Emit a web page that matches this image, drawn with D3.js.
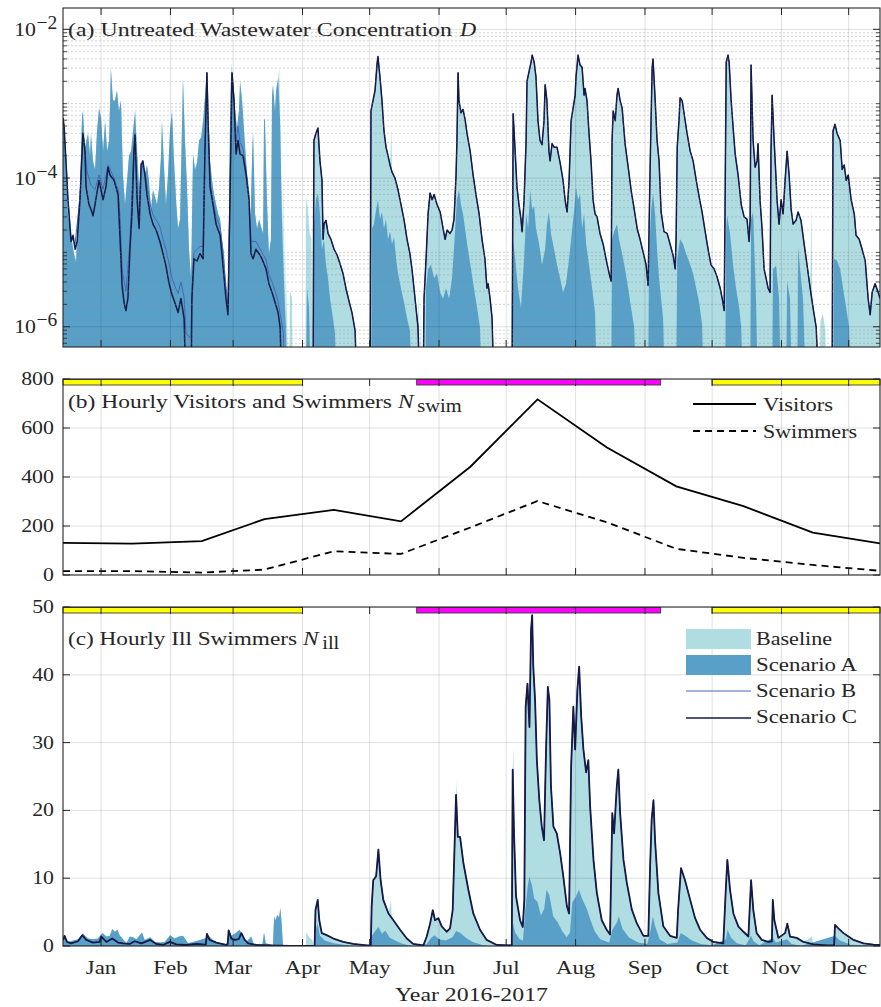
<!DOCTYPE html>
<html>
<head>
<meta charset="utf-8">
<script src="https://cdn.jsdelivr.net/npm/d3@7"></script>
<style>
html,body{margin:0;padding:0;background:#fff;}
svg{display:block;}
text{font-family:"Liberation Serif","Times New Roman",serif;fill:#262626;font-size:19.5px;}
</style>
</head>
<body>
<svg id="chart" width="881" height="1007"></svg>
<script>
// ================= DATA =================
// time axis: day offsets from 2016-12-15
const monthLabels = ["Jan","Feb","Mar","Apr","May","Jun","Jul","Aug","Sep","Oct","Nov","Dec"];

// (b) hourly visitors / swimmers (mid-month values)
const visitDates = ["2016-12-15","2017-01-15","2017-02-15","2017-03-15","2017-04-15","2017-05-15","2017-06-15","2017-07-15","2017-08-15","2017-09-15","2017-10-15","2017-11-15","2017-12-15"];
const visitors = [131,128,138,228,266,219,442,717,520,362,281,173,129];
const swimmers = [16,16,10,22,97,86,194,302,215,107,70,41,17];

// season bars
const seasonStart = ["2016-12-15","2017-05-22","2017-10-01"];
const seasonEnd   = ["2017-04-01","2017-09-08","2017-12-15"];
const seasonKind  = ["winter","summer","winter"];

// tick values
const concMajorTicks = [1e-6,1e-4,1e-2];
const concTickExp = ["−6","−4","−2"];
const visitTicks = [0,200,400,600,800];
const illTicks = [0,10,20,30,40,50];

// (a) Scenario C concentration [day, D]
const concC = [
[0,6.4e-4],[0.5,5e-4],[1.3,1.7e-4],[2.2,5.1e-5],[3.6,1.4e-5],[4.5,1.7e-5],[5.4,1.1e-5],[6.3,1.4e-5],[7.6,5.1e-5],[8.9,4e-4],[9.8,2.3e-4],[10.3,7.6e-5],[11.6,4.4e-5],[12.5,3.8e-5],[13.4,3.1e-5],[14.3,4.4e-5],[16.1,9.3e-5],[17,6.9e-5],[17.9,5.1e-5],[19.2,7.6e-5],[20.1,1.4e-4],[21,1.1e-4],[22.8,9.3e-5],[24.6,6e-5],[25.5,1.5e-5],[26.4,3.6e-6],[27.3,2.1e-6],[28.1,1.65e-6],[29,2.4e-6],[29.9,1.1e-5],[30.8,3.3e-5],[31.7,2.3e-4],[32.2,3.8e-4],[33.1,5.1e-5],[34,2.1e-5],[34.9,1.5e-4],[35.7,1.7e-4],[36.6,1.1e-4],[37.5,6e-5],[38.9,3.3e-5],[40.2,2.4e-5],[41.6,2e-5],[42.4,1.7e-5],[43.3,1.4e-5],[44.7,9.6e-6],[46,6.6e-6],[47.4,3.8e-6],[48.7,2.7e-6],[50,2.1e-6],[51.4,1.55e-6],[52.7,2.4e-6],[54.1,1.3e-6],[55,1e-7],[57.2,1e-7],[57.6,2.4e-6],[58.5,8.2e-6],[59.9,7.7e-6],[61.2,9.6e-6],[62.6,8.2e-6],[63.4,2.3e-4],[64.3,2.6e-3],[64.8,5.9e-4],[65.7,7.6e-5],[67,4.4e-5],[68.4,2.4e-5],[70.2,1.7e-5],[71.5,6.6e-6],[72.8,2.4e-6],[73.7,1.45e-6],[74.6,5.1e-5],[75.5,2.6e-3],[76.4,1.1e-3],[77.3,2.1e-4],[78.2,3.2e-4],[79.1,2.1e-4],[80.4,2e-4],[81.8,1.1e-4],[83.1,5.1e-5],[84,9.6e-6],[84.9,8.2e-6],[86.2,1.1e-5],[87.6,9.6e-6],[88.9,8.2e-6],[90.7,6e-6],[92,3.8e-6],[93.4,2.9e-6],[94.8,2.1e-6],[96.1,1.55e-6],[97,9.8e-7],[97.9,1e-7],
[106.8,1e-7],[111.7,1e-7],[112.1,3.2e-4],[113,4e-4],[113.9,4.7e-4],[114.8,1.7e-4],[115.7,9.3e-5],[116.2,1.5e-5],[116.6,2.4e-5],[117.5,2.7e-5],[118.4,1.8e-5],[119.7,1.5e-5],[121.1,1.1e-5],[122.4,9.3e-6],[123.8,7e-6],[125.1,5.2e-6],[126.4,3.3e-6],[127.8,2.2e-6],[129.1,1.55e-6],[130.5,8.9e-7],[131.4,1e-7],
[137.2,1e-7],[137.6,8e-4],[138.5,1.1e-3],[139.4,1.5e-3],[140.3,3.4e-3],[140.7,4.3e-3],[141.6,2.3e-3],[142.5,1.1e-3],[143.4,4.3e-4],[144.3,2.6e-4],[145.2,2e-4],[146.1,1.5e-4],[147,1.2e-4],[148.3,1e-4],[149.7,6.9e-5],[151,4.4e-5],[152.4,2.7e-5],[153.7,1.5e-5],[155,9.6e-6],[155.9,6e-6],[156.8,3.3e-6],[157.7,1.8e-6],[158.6,9.8e-7],[159.5,1e-7],
[160.9,1e-7],[161.3,2.4e-6],[162.2,8.2e-6],[163.1,3.3e-5],[164,6.3e-5],[164.9,5.1e-5],[165.8,6e-5],[167.1,4.4e-5],[168.5,3.5e-5],[169.8,2.1e-5],[170.7,1.5e-5],[171.6,2e-5],[172.9,1.8e-5],[173.8,2e-5],[174.7,2.8e-5],[175.6,1.1e-4],[176,3.2e-4],[176.5,2.6e-3],[176.9,1.1e-3],[177.8,7.5e-4],[178.7,8.4e-4],[179.6,6.2e-4],[180.5,4e-4],[181.9,2.3e-4],[183.2,1.1e-4],[184.5,6e-5],[185.9,3.3e-5],[187.2,1.5e-5],[188.5,8.2e-6],[189.4,3.3e-6],[189.9,3.8e-6],[190.8,2.4e-6],[191.7,1.3e-6],[192.6,1e-7],
[200.6,1e-7],[201.1,7.3e-4],[202,2.3e-4],[202.8,7.6e-5],[203.7,4.4e-5],[204.6,2.8e-5],[205.1,1.9e-5],[206,5.1e-5],[206.9,3.2e-4],[207.3,2e-3],[208.2,2.7e-3],[209.1,3.6e-3],[209.6,4.5e-3],[210.5,3.6e-3],[211.3,2.3e-3],[212.2,5.9e-4],[213.1,3.2e-4],[214,2.8e-4],[214.9,5.9e-4],[215.4,1.8e-3],[216.2,1.1e-3],[217.1,2.3e-4],[217.6,1.7e-4],[218.5,2.9e-4],[219.4,2.6e-4],[220.7,2.6e-4],[222.1,1.6e-4],[223.4,9.3e-5],[224.3,5.1e-5],[225.2,3.5e-5],[226.1,9.3e-5],[227,5.9e-4],[227.9,8.7e-4],[228.8,1.3e-3],[229.2,2.3e-3],[230.1,4.5e-3],[231,3.3e-3],[231.9,3.1e-3],[232.8,1.3e-3],[233.2,1.6e-3],[234.1,1.1e-3],[235,4e-4],[235.9,1.7e-4],[236.8,5.1e-5],[237.7,3.3e-5],[238.6,3e-5],[239.9,1.8e-5],[241.3,1.3e-5],[242.6,8.2e-6],[244,5.2e-6],[244.9,4.1e-6],
[245.3,3.2e-4],[245.8,8e-4],[246.7,5.9e-4],[247.5,1.3e-3],[248,1.6e-3],[248.9,1.1e-3],[249.8,8.7e-4],[251.1,2.9e-4],[252.5,1.4e-4],[253.8,6.9e-5],[255.2,3.8e-5],[256.5,2.1e-5],[257.8,1.5e-5],[259.2,1e-5],[260.5,6.8e-6],[261.4,3.6e-6],
[262.3,1.4e-4],[263.2,3e-3],[263.6,4e-3],[264.5,1.2e-3],[265.4,3.2e-4],[266.3,1.7e-4],[267.2,3.5e-5],[268.5,1.9e-5],[269.9,1.8e-5],[271.2,1.3e-5],[272.6,9e-6],[273.5,6e-6],
[273.9,1.5e-5],[274.4,2.6e-4],[275.2,5.9e-4],[275.7,1.2e-3],[276.6,1.1e-3],[277.5,7.3e-4],[278.8,4e-4],[280.2,2.3e-4],[281.5,1.7e-4],[282.9,9.3e-5],[284.2,5.6e-5],[285.5,3.5e-5],[286.9,1.9e-5],[288.2,1.1e-5],[289.5,6.8e-6],[290.9,6e-6],[292.2,4.7e-6],[293.6,3.3e-6],[294.5,2.4e-6],[295.4,1.65e-6],
[296.3,3.6e-3],[297.1,4.5e-3],[297.6,3.6e-3],[298.5,1.1e-3],[299.4,4.7e-4],[300.3,2.1e-4],[301.6,1.1e-4],[303,4.4e-5],[304.3,3e-5],[305.6,2.8e-5],[306.5,1.4e-5],[307,2.8e-5],
[307.4,3.3e-3],[308.3,3.2e-4],[309.2,1.4e-4],[310.1,1.7e-4],[310.5,2.9e-4],[311.4,5.1e-5],[312.3,2.1e-5],[313.2,6e-6],[314.1,4.5e-6],[315,3.3e-6],[315.9,2.9e-6],
[316.3,2.3e-4],[316.8,1.3e-3],[317.7,3.2e-4],[318.6,9.3e-5],[319,5.1e-5],[319.9,2.4e-5],[320.8,5.1e-5],[321.7,3.3e-5],[322.6,9.3e-5],[323.5,2.3e-4],[324.4,1.1e-4],[325.3,3.8e-5],[326.2,2.4e-5],[327.5,2.7e-5],[328.4,3.5e-5],[329.7,2.7e-5],[331.1,1.3e-5],[332.4,6.8e-6],[333.8,3.3e-6],[335.1,1.8e-6],[336.5,9.8e-7],[337.8,1e-7],
[343.6,1e-7],[344,4.3e-4],[344.9,5.3e-4],[345.8,4e-4],[347.2,3.2e-4],[348.1,1.3e-4],[349,1.5e-4],[349.9,9.3e-5],[350.8,1.1e-4],[352.1,5.1e-5],[353.5,3.3e-5],[354.3,1.7e-5],[355.7,1.5e-5],[357,1.1e-5],[358.4,7.7e-6],[359.7,2.4e-6],[360.6,1.45e-6],[361.5,2.9e-6],[362.8,3.8e-6],[364.2,2.9e-6],[365,2.4e-6]
];

// (a) Scenario B in winter (coincides with C afterwards)
const concBWinter = [
[0,6.4e-4],[1.3,1.9e-4],[2.2,5.5e-5],[3.6,1.6e-5],[5.4,1.3e-5],[7.6,5.5e-5],[8.9,4e-4],[9.8,2.4e-4],[10.8,1.2e-4],[12.5,8e-5],[14.3,7e-5],[16.1,1.1e-4],[17.9,7e-5],[20.1,1.5e-4],[22.8,1e-4],[24.6,7e-5],[25.5,3e-5],[26.4,6e-6],[28.1,3e-6],[29.9,1.4e-5],[31.7,2.5e-4],[32.2,4e-4],[33.1,6e-5],[34,2.8e-5],[34.9,1.6e-4],[36.6,1.2e-4],[38.9,4.5e-5],[40.2,3.2e-5],[42.4,2.5e-5],[43.3,2.2e-5],[44.7,1.5e-5],[46,1.1e-5],[47.4,7e-6],[48.7,4.5e-6],[50,3.5e-6],[51.4,2.8e-6],[52.7,4e-6],[54.1,2.5e-6],[55,8e-7],[57.2,7e-7],[57.6,3e-6],[58.5,1e-5],[61.2,1.2e-5],[62.6,1.2e-5],[63.4,2.5e-4],[64.3,2.6e-3],[65.7,9e-5],[67,5e-5],[68.4,3e-5],[70.2,2.2e-5],[71.5,1e-5],[72.8,3.5e-6],[73.7,2e-6],[74.6,6e-5],[75.5,2.6e-3],[76.4,1.2e-3],[77.3,3e-4],[78.2,5e-4],[79.1,3e-4],[80.4,2.5e-4],[81.8,1.3e-4],[83.1,6e-5],[84,1.4e-5],[86.2,1.4e-5],[88.9,1e-5],[90.7,8e-6],[92,5e-6],[93.4,4e-6],[94.8,3e-6],[96.1,2.2e-6],[97,1.5e-6],[98.5,8e-7],[99,1e-7]
];

// (a) Scenario A concentration
const concA = [
[0,5.9e-4],[0.4,6.2e-4],[1.3,1.05e-4],[2.2,3.3e-5],[3.6,1.7e-5],[4.9,9.6e-6],[5.8,7.5e-6],[6.7,3.3e-5],[7.6,7.6e-5],[8.5,6.8e-4],[8.9,8e-4],[9.8,2.6e-4],[11.2,4e-4],[12.1,2e-4],[12.5,4e-4],[13.4,1.7e-4],[14.3,1.3e-4],[15.2,4.3e-4],[16.1,8.7e-4],[17,6.4e-4],[17.9,2.3e-4],[18.8,5.9e-4],[19.7,2.3e-4],[20.6,3.2e-4],[21.4,3e-3],[22.3,1.1e-3],[23.2,1.1e-3],[24.1,1.5e-3],[25,8e-4],[25.9,1.1e-3],[26.8,1.1e-4],[27.7,4.4e-5],[28.6,9.3e-5],[29.5,2e-4],[30.4,2.3e-4],[31.3,4.3e-4],[32.2,8e-4],[33.1,2.3e-4],[34,7.6e-5],[34.9,1.5e-4],[35.7,1.7e-4],[36.6,1.1e-4],[37.5,1.5e-4],[38.4,9.3e-5],[39.3,3.8e-5],[40.2,6.9e-5],[41.1,5.6e-5],[42,4.4e-5],[42.9,7.4e-5],[43.8,2e-4],[44.2,5.9e-4],[45.1,1.5e-4],[46,4.4e-5],[46.9,1.1e-4],[47.8,4.3e-4],[48.7,8e-4],[49.6,1.7e-4],[50.5,5.1e-5],[51.4,2.1e-5],[52.3,2.8e-5],[53.2,5.9e-4],[53.6,2.2e-3],[54.5,3.2e-4],[55.4,7.6e-5],[56.3,1.1e-5],[57.2,4.5e-6],[58.1,2.1e-4],[59,1.3e-4],[59.9,1.6e-4],[60.8,3.2e-4],[61.7,3.5e-4],[62.6,5.9e-4],[63.4,1.2e-3],[64.2,2.7e-3],[64.8,4.3e-4],[65.7,1.7e-4],[66.6,9.3e-5],[67.5,6e-5],[68.4,4.4e-5],[69.3,3.3e-5],[70.2,2.8e-5],[71,1.5e-5],[71.9,9.6e-6],[72.8,3.3e-6],[73.7,1.65e-6],[74.6,5.9e-4],[75.1,2.7e-3],[76,1.6e-3],[76.9,8e-4],[77.7,4.7e-4],[78.6,8e-4],[79.1,2e-3],[80,1.1e-3],[80.9,4.3e-4],[81.8,1.7e-4],[82.7,6.9e-5],[83.6,1.7e-5],[84.5,2e-4],[84.9,4.3e-4],[85.8,3.3e-5],[86.7,2.1e-5],[87.6,2.8e-5],[88.5,2.2e-5],[89.4,1.8e-5],[89.8,5.9e-4],[90.2,6.4e-4],[91.1,5.1e-5],[92,9.6e-6],[92.9,1.5e-5],[93.4,1.3e-3],[93.8,1.8e-3],[94.7,8e-4],[95.2,1.5e-3],[96.1,2.2e-3],[97,5.9e-4],[97.9,2.1e-5],[98.8,3.3e-6],[99.6,9.8e-7],[100.5,1e-7],
[105.9,1e-7],[108.5,1e-7],[109,3.3e-6],[109.9,1.8e-6],[110.8,1e-7],[111.7,1e-7],[112.1,2.1e-5],[113,5.1e-5],[113.9,6.3e-5],[114.8,3.3e-5],[115.7,1.1e-5],[116.6,1.5e-5],[117.5,6.8e-6],[118.4,4.5e-6],[119.3,2.4e-6],[120.6,1.3e-6],[121.5,8.4e-7],[122.4,1e-7],
[137.6,1e-7],[138.1,2.1e-5],[138.9,2.4e-5],[139.8,3.6e-5],[140.7,5.1e-5],[141.6,2.8e-5],[142.5,3.5e-5],[143.4,2.1e-5],[144.3,2.8e-5],[145.2,1.5e-5],[146.1,1.9e-5],[147,1.3e-5],[147.9,1.6e-5],[148.8,8.2e-6],[149.7,5.2e-6],[151,3.3e-6],[152.4,2.1e-6],[153.7,1.3e-6],[155,8.9e-7],[155.9,1e-7],
[161.8,1e-7],[162.2,3.3e-6],[163.1,6e-6],[164.4,6.8e-6],[165.8,4.5e-6],[167.1,5.2e-6],[168.5,2.9e-6],[169.8,2.4e-6],[171.1,3.3e-6],[172.5,2.4e-6],[173.8,4.5e-6],[175.1,1.8e-5],[176,5.1e-5],[176.9,6.9e-5],[177.8,4.4e-5],[178.7,3.3e-5],[179.6,2.1e-5],[180.9,1.1e-5],[182.3,6e-6],[183.6,3.3e-6],[185,1.8e-6],[186.3,9.8e-7],[187.2,1e-7],
[200.6,1e-7],[201.1,1.5e-5],[202,8.2e-6],[203.3,3.3e-6],[204.6,1.8e-6],[206,8.2e-6],[206.9,3.3e-5],[207.8,2.1e-5],[208.7,6.9e-5],[209.6,3.8e-5],[210.5,4.2e-5],[211.3,2.1e-5],[212.7,1.3e-5],[214,6.8e-6],[215.4,1.1e-5],[216.2,2.4e-5],[217.1,3.5e-5],[218,1.8e-5],[219.4,1.1e-5],[220.7,6.8e-6],[222.1,4.5e-6],[223.4,2.9e-6],[224.7,3.8e-6],[226.1,8.2e-6],[227,1.5e-5],[228.4,3.8e-5],[229.2,7.6e-5],[230.1,5.1e-5],[231,6e-5],[231.9,2.1e-5],[232.8,3.3e-5],[233.7,1.3e-5],[235,6.8e-6],[236.4,3.3e-6],[237.7,1.55e-6],[238.6,1e-7],
[244.9,1e-7],[245.3,1.5e-5],[246.2,1.9e-5],[247.5,2.4e-5],[248.4,1.5e-5],[249.8,9.6e-6],[251.1,6e-6],[252.5,3.3e-6],[253.8,1.8e-6],[255.2,9.8e-7],[256.1,1e-7],
[261.4,1e-7],[261.8,8.2e-6],[262.7,3.5e-5],[263.6,6.3e-5],[264.5,3.3e-5],[265.4,1.1e-5],[266.3,4.5e-6],[267.2,2.4e-6],[268.1,1.3e-6],[269,1e-7],
[273.9,1e-7],[274.4,8.2e-6],[275.7,1.5e-5],[277,1.3e-5],[278.4,9.6e-6],[280.2,6.8e-6],[281.5,5.2e-6],[282.9,3.3e-6],[284.2,2.1e-6],[285.5,1.1e-6],[286.4,1e-7],
[295.8,1e-7],[296.3,2.1e-5],[296.7,3.1e-5],[298,1.8e-5],[299.4,6.6e-6],[300.7,3.3e-6],[302.1,1.8e-6],[303,9.8e-7],[303.9,1e-7],
[307,1e-7],[307.4,2.8e-5],[308.3,3.5e-5],[309.6,2.4e-6],[310.5,1e-7],
[316.8,1e-7],[317.2,6e-6],[318.6,6.6e-6],[319.9,2.4e-6],[320.8,1e-7],[323,1e-7],[323.5,4.1e-6],[324.8,2.4e-6],[325.7,1e-7],[328,1e-7],[328.4,1.2e-5],[329.3,6e-6],[330.6,2.4e-6],[332,1e-7],
[344,1e-7],[344.5,8.2e-6],[345.8,7.7e-6],[347.2,6e-6],[348.5,3.3e-6],[349.9,1.8e-6],[351.2,9.8e-7],[352.1,1e-7],[365,1e-7]
];

// (a) Baseline: follows A in winter, C in summer, plus these extra visible spikes
const concBaseExtra = [
[75.4,3.5e-3],[96.6,3e-3],[98.4,8e-5],[99.2,2e-5],[100,5e-6],[101,1e-7],[101.4,3e-6],[102.3,2.5e-6],[102.7,1e-7],
[108.3,1e-7],[108.5,5.6e-5],[109.4,3.8e-5],[110.2,1.8e-5],[111,1.5e-5],[111.5,1e-7],
[146.7,4.7e-4],[158.8,4e-6],[159.9,2.4e-6],[160.4,1e-7],[201,9.8e-4],
[334.4,4.2e-5],[334.7,2e-6],[338.4,1.2e-6],[339.5,1.5e-6],[340.6,9e-7],[341,1e-7]
];

// (c) Scenario C hourly ill swimmers [day, N]
const illC = [
[0,0.8],[0.7,1.5],[1.8,0.6],[3.6,0.4],[6.7,0.7],[8.6,1.6],[10.4,0.9],[13.4,0.5],[16.4,0.6],[17.1,1.4],[19.4,0.6],[22,1.1],[24.6,0.5],[26.8,0.4],[29.8,0.3],[32,0.7],[35,0.4],[39,0.9],[41.7,0.3],[44.7,0.15],[47.7,0.6],[50.6,0.25],[55.1,0.15],[59.6,0.3],[63.8,0.2],[64.3,1.8],[65.5,0.9],[68.5,0.5],[73,0.15],[73.6,0.3],[74,2.3],[75.2,1.1],[76.7,0.9],[78.5,1.0],[79.7,1.9],[81.2,0.9],[82.7,0.4],[86.4,0.15],[92.3,0.1],[101.3,0],
[112.4,0],[112.8,5.3],[113.8,6.8],[114.5,3.8],[115.6,1.9],[117.8,1.6],[120.8,1.1],[125.2,0.6],[129.7,0.3],[135.7,0.1],
[137.5,0.1],[137.9,5.8],[138.6,9.7],[139.9,10.3],[140.9,14.2],[141.9,9.7],[143.1,6.8],[145.4,4.8],[147.6,3.8],[150.6,2.4],[153.6,1.1],[156.5,0.3],[161,0.1],
[162.5,1.4],[164,3.3],[165.2,5.3],[166.2,3.8],[167.7,4.1],[169.2,2.9],[171.4,2.1],[172.9,2.6],[174.1,5.3],[174.8,13.2],[175.6,22.3],[176.4,16.1],[177.4,16.1],[178.9,12.2],[181.1,8.3],[183.3,4.8],[186.3,2.4],[189.3,0.9],[193.8,0.15],
[200.5,0.1],[200.9,26],[201.5,16.6],[202.4,7.3],[204.2,3.8],[205.4,2.8],[206.1,6.8],[206.7,35.3],[207.5,38.7],[208.4,32.3],[209.1,46.6],[209.6,48.8],[210.1,41.2],[210.9,36.3],[211.7,27.4],[212.8,21.5],[213.9,17.6],[214.9,15.6],[215.8,28.9],[216.6,38.2],[217.3,36.3],[218,23.5],[219.1,17.6],[220.6,16.6],[222.1,13.7],[223.5,10.3],[225.1,5.9],[226.1,4.8],[227,26.4],[228,35.3],[228.8,29],[229.8,37.8],[230.6,41.2],[231.5,33.9],[232.5,29],[233.7,25.6],[234.7,27.4],[235.5,20.6],[237,12.7],[238.5,7.8],[240.7,3.8],[242.9,2.4],[244.4,1.7],
[245.4,19.6],[246.2,16.6],[247.4,23.5],[248.1,26],[248.9,19.6],[250.4,12.7],[251.9,9.3],[254.1,5.4],[256.3,3.4],[259.3,1.5],[261.5,1.5],[262.3,11.8],[263,18.7],[263.8,21.5],[264.5,15.6],[266,7.8],[268.2,2.9],[271.2,1.5],[274.2,1.2],[274.8,5.3],[276.1,11.5],[277.9,9.7],[280.2,6.8],[282.4,4.1],[284.6,2.4],[287.6,1.2],[290.6,0.6],[295,0.4],
[296.1,8.3],[296.8,12.7],[298,8.3],[299.5,4.8],[301.7,2.9],[304,2.1],[306.2,1.4],[307.4,9.7],[308.4,5.3],[309.9,1.9],[312.2,0.9],[315.1,0.6],[316.7,0.7],[317.1,6.8],[317.8,3.8],[319.6,1.2],[322.6,1.9],[323.6,3.3],[324.8,1.4],[327.8,1.2],[330.8,0.6],[335.3,0.25],[341.2,0.1],[344.5,0.1],[344.9,3.1],[346.4,2.6],[348.7,1.9],[350.9,1.4],[353.2,0.9],[357.6,0.4],[362.1,0.2],[365,0.15]
];

// (c) Scenario A hourly ill swimmers
const illA = [
[0,0.5],[0.7,1.4],[2.2,0.6],[4.5,0.8],[6.7,1.0],[8.9,1.8],[11.2,1.1],[13.4,1.0],[15.6,1.1],[17.6,1.9],[19.4,1.4],[20.9,1.5],[22,2.5],[23.1,2.1],[24.3,2.4],[25.3,1.6],[26.8,1.0],[28.3,0.4],[29.8,1.4],[31.3,1.3],[32.8,1.0],[35.3,2.0],[36.5,0.9],[39,1.3],[41,0.6],[43.2,0.5],[45.4,0.6],[47.9,1.6],[49.9,1.1],[51.8,1.4],[53.6,1.5],[55.9,0.4],[58.1,0.6],[61.1,0.9],[63.3,1.1],[64.8,1.6],[67,0.9],[70,0.3],[73,0.25],[74.2,2.4],[75.2,1.5],[77.2,1.9],[78.9,2.4],[80.4,1.4],[81.9,0.6],[84.1,1.4],[85.2,0.3],[89.1,0.15],[89.8,2.0],[90.6,0.4],[93.8,0.1],[94.3,4.3],[95,3.8],[95.7,4.6],[96.5,4.2],[97.1,5.6],[97.7,3.3],[98.3,0],
[112.4,0],[113,2.5],[113.8,3.3],[114.8,1.5],[117,0.8],[121,0.4],[126,0.15],[130,0],
[137.5,0],[138,1.5],[139.5,2.2],[140.9,2.8],[142.5,1.8],[144,2.3],[146,1.2],[149,0.7],[152,0.3],[156,0],
[162.5,0.3],[164.5,1.2],[166,1.6],[168,1.0],[171,0.8],[174,1.3],[175.6,2.2],[177.5,1.9],[180,1.2],[183,0.6],[187,0.2],[190,0],
[200.6,0],[201,3.5],[202,2.0],[204,1.0],[205.5,0.8],[206.5,5],[207.5,8.5],[208.3,10.2],[209.5,9],[210.5,7],[212,6.5],[213.5,4.5],[215,5.5],[216,8.3],[217.3,7.5],[219,4.4],[221,3.5],[223,2.2],[225,1.3],[226.5,2.0],[227.5,6.4],[229,7.2],[230.5,8.3],[232,6.9],[234,5.5],[235.5,4.0],[237.5,2.2],[240,1.0],[244,0.5],[245.4,2.4],[247.5,3.5],[248.3,4.4],[250,2.5],[253,1.2],[257,0.5],[261,0.3],[262.3,2.0],[263.5,4.4],[264.5,3.0],[266.5,1.0],[270,0.3],
[274.5,0.5],[276,1.9],[278,1.5],[281,0.8],[285,0.3],[290,0.1],
[296.2,1.0],[296.9,2.4],[298.5,1.2],[301,0.4],[305,0.1],
[307.4,1.5],[308.5,0.7],[311,0.1],[317.1,1.2],[318.5,0.5],[323.5,1.0],[325.5,0.3],[330,0.05],[344.9,1.5],[347,0.8],[352,0.2],[365,0.05]
];

// (c) Baseline: follows A in winter, C in summer, plus extra visible spikes
const illBaseExtra = [
[108.5,0],[108.7,2.0],[110,1.3],[111.5,0.8],[112,0],[146.5,6.8],[146.9,3.9],[175.8,24.5],[201.3,29.4],[217,39],[334.5,1.4]
];

// ================= STYLE / LAYOUT =================
const COL = {base:"#b0dde2", A:"#58a0c8", B:"#4468bf", C:"#151a47", winter:"#ffff00", summer:"#ff00ff", axis:"#262626"};
const L = 63, R = 880;
const P = {a:{t:8,b:347}, b:{t:379,b:575}, c:{t:607,b:946}};

const svg = d3.select("#chart");
const parse = d3.timeParse("%Y-%m-%d");
const t0 = parse("2016-12-15"), t1 = parse("2017-12-15");
const toDate = d => new Date(t0.getTime() + d*86400000);
const x = d3.scaleTime().domain([t0,t1]).range([L,R]);
const months = d3.timeMonth.range(d3.timeMonth.ceil(t0), t1);

const yA = d3.scaleLog().domain([Math.pow(10,-6.272), Math.pow(10,-1.7135)]).range([P.a.b, P.a.t]);
const yB = d3.scaleLinear().domain([0,800]).range([P.b.b, P.b.t]);
const yC = d3.scaleLinear().domain([0,50]).range([P.c.b, P.c.t]);

const byDay = (a,b) => a[0]-b[0];
const merge = (...arrs) => [].concat(...arrs).sort(byDay);
const concBase = merge(concA.filter(d=>d[0]<104), concC.filter(d=>d[0]>=104), concBaseExtra);
const concB = merge(concBWinter, concC.filter(d=>d[0]>=104));
const illBase = merge(illA.filter(d=>d[0]<104), illC.filter(d=>d[0]>=104), illBaseExtra);
const illB = illC;

function stretch(sel, f){
  sel.each(function(){ const w=this.getComputedTextLength(); this.setAttribute("textLength",(w*f).toFixed(1)); this.setAttribute("lengthAdjust","spacingAndGlyphs"); });
}
function fixLen(sel, len){ sel.attr("textLength",len).attr("lengthAdjust","spacingAndGlyphs"); }
function mathVar(g, x0, y0, letter, sub){
  const n = g.append("text").attr("x",x0).attr("y",y0).attr("font-style","italic").text(letter);
  stretch(n, 1.2);
  const w = n.node().getComputedTextLength()*1.2;
  stretch(g.append("text").attr("x",x0+w+0.5).attr("y",y0+4).attr("font-size",13.5).text(sub), 1.05);
}

const defs = svg.append("defs");
for (const k of ["a","b","c"]) {
  defs.append("clipPath").attr("id","clip-"+k).append("rect")
    .attr("x",L).attr("y",P[k].t).attr("width",R-L).attr("height",P[k].b-P[k].t);
}

function areaPath(g, data, y, bottom, fill){
  const ar = d3.area().x(d=>x(toDate(d[0]))).y0(bottom).y1(d=>Math.min(y(d[1]), bottom+50));
  g.append("path").attr("d", ar(data)).attr("fill", fill).attr("stroke","none");
}
function linePath(g, data, y, bottom, stroke, w){
  const ln = d3.line().x(d=>x(toDate(d[0]))).y(d=>Math.min(y(d[1]), bottom+50));
  g.append("path").attr("d", ln(data)).attr("fill","none").attr("stroke",stroke).attr("stroke-width",w).attr("stroke-linejoin","round");
}
function vgrid(g, k){
  g.selectAll(null).data(months).enter().append("line")
    .attr("x1",d=>x(d)).attr("x2",d=>x(d)).attr("y1",P[k].t).attr("y2",P[k].b)
    .attr("stroke","#000").attr("stroke-opacity",0.12).attr("stroke-width",1);
}
function hgrid(g, vals, y, k, dotted){
  g.selectAll(null).data(vals).enter().append("line")
    .attr("x1",L).attr("x2",R).attr("y1",d=>y(d)).attr("y2",d=>y(d))
    .attr("stroke", dotted ? "#8c8c8c" : "#000").attr("stroke-opacity", dotted?0.55:0.12)
    .attr("stroke-width", dotted?0.7:1).attr("stroke-dasharray", dotted?"2,2":null);
}
function frame(g, k, yTickPos, minorPos){
  const t=P[k].t, b=P[k].b;
  g.selectAll(null).data(months).enter().append("line")
    .attr("x1",d=>x(d)).attr("x2",d=>x(d)).attr("y1",t).attr("y2",t+7).attr("stroke",COL.axis);
  g.selectAll(null).data(months).enter().append("line")
    .attr("x1",d=>x(d)).attr("x2",d=>x(d)).attr("y1",b).attr("y2",b-7).attr("stroke",COL.axis);
  for (const yy of yTickPos){
    g.append("line").attr("x1",L).attr("x2",L+7).attr("y1",yy).attr("y2",yy).attr("stroke",COL.axis);
    g.append("line").attr("x1",R).attr("x2",R-7).attr("y1",yy).attr("y2",yy).attr("stroke",COL.axis);
  }
  for (const yy of (minorPos||[])){
    g.append("line").attr("x1",L).attr("x2",L+4).attr("y1",yy).attr("y2",yy).attr("stroke",COL.axis).attr("stroke-width",0.8);
    g.append("line").attr("x1",R).attr("x2",R-4).attr("y1",yy).attr("y2",yy).attr("stroke",COL.axis).attr("stroke-width",0.8);
  }
  g.append("rect").attr("x",L).attr("y",t).attr("width",R-L).attr("height",b-t)
    .attr("fill","none").attr("stroke",COL.axis).attr("stroke-width",1.1);
}
function seasonBars(g, k){
  const t=P[k].t;
  seasonStart.forEach((s,i)=>{
    const x0=x(parse(s)), x1=x(parse(seasonEnd[i]));
    g.append("rect").attr("x",x0).attr("y",t+0.5).attr("width",x1-x0).attr("height",5.5)
      .attr("fill",COL[seasonKind[i]]).attr("stroke","#3a3a3a").attr("stroke-width",0.9);
  });
}

// ---------- Panel (a) ----------
const ga = svg.append("g");
const gaC = ga.append("g").attr("clip-path","url(#clip-a)");
areaPath(gaC, concBase, yA, P.a.b, COL.base);
areaPath(gaC, concA, yA, P.a.b, COL.A);
linePath(gaC, concB, yA, P.a.b, COL.B, 1);
linePath(gaC, concC, yA, P.a.b, COL.C, 1.5);
const logMinor = [];
for (let e=-7; e<=-2; e++) for (let m=1; m<=9; m++){
  const v = m*Math.pow(10,e);
  if (v>=yA.domain()[0] && v<=yA.domain()[1] && !concMajorTicks.some(M=>Math.abs(M-v)/v<1e-6)) logMinor.push(v);
}
vgrid(gaC,"a");
hgrid(gaC, logMinor, yA, "a", true);
hgrid(gaC, concMajorTicks, yA, "a", false);
frame(ga, "a", concMajorTicks.map(yA), logMinor.map(yA));
concMajorTicks.forEach((v,i)=>{
  const tt = ga.append("text").attr("x",36).attr("y",yA(v)+6.5).attr("text-anchor","end").text("10");
  stretch(tt,1.12);
  ga.append("text").attr("x",36.5).attr("y",yA(v)-0.5).attr("font-size",13.5).text(concTickExp[i]);
});
fixLen(ga.append("text").attr("x",68).attr("y",36).text("(a) Untreated Wastewater Concentration"), 384);
stretch(ga.append("text").attr("x",460).attr("y",36).attr("font-style","italic").text("D"), 1.15);

// ---------- Panel (b) ----------
const gb = svg.append("g");
const gbC = gb.append("g").attr("clip-path","url(#clip-b)");
vgrid(gbC,"b");
hgrid(gbC, visitTicks, yB, "b", false);
const vd = visitDates.map(parse);
const lnB = d3.line().x((d,i)=>x(vd[i])).y(d=>yB(d));
gbC.append("path").attr("d",lnB(visitors)).attr("fill","none").attr("stroke","#000").attr("stroke-width",1.8);
gbC.append("path").attr("d",lnB(swimmers)).attr("fill","none").attr("stroke","#000").attr("stroke-width",1.8).attr("stroke-dasharray","7,5");
seasonBars(gb,"b");
frame(gb, "b", visitTicks.map(yB));
visitTicks.forEach(v=>{
  stretch(gb.append("text").attr("x",54).attr("y",yB(v)+6).attr("text-anchor","end").text(v),1.12);
});
fixLen(gb.append("text").attr("x",68).attr("y",408).text("(b) Hourly Visitors and Swimmers"), 324);
mathVar(gb, 398, 408, "N", "swim");
gb.append("line").attr("x1",693).attr("x2",756).attr("y1",404).attr("y2",404).attr("stroke","#000").attr("stroke-width",1.8);
fixLen(gb.append("text").attr("x",763).attr("y",411).text("Visitors"), 70);
gb.append("line").attr("x1",693).attr("x2",756).attr("y1",431).attr("y2",431).attr("stroke","#000").attr("stroke-width",1.8).attr("stroke-dasharray","7,5");
fixLen(gb.append("text").attr("x",763).attr("y",438).text("Swimmers"), 94);

// ---------- Panel (c) ----------
const gc = svg.append("g");
const gcC = gc.append("g").attr("clip-path","url(#clip-c)");
areaPath(gcC, illBase, yC, P.c.b, COL.base);
areaPath(gcC, illA, yC, P.c.b, COL.A);
linePath(gcC, illB, yC, P.c.b, COL.B, 1);
linePath(gcC, illC, yC, P.c.b, COL.C, 1.8);
vgrid(gcC,"c");
hgrid(gcC, illTicks, yC, "c", false);
seasonBars(gc,"c");
frame(gc, "c", illTicks.map(yC));
illTicks.forEach(v=>{
  stretch(gc.append("text").attr("x",54).attr("y",yC(v)+6).attr("text-anchor","end").text(v),1.12);
});
fixLen(gc.append("text").attr("x",68).attr("y",645).text("(c) Hourly Ill Swimmers"), 229);
mathVar(gc, 303, 645, "N", "ill");
// legend (c)
gc.append("rect").attr("x",686).attr("y",629).attr("width",65).attr("height",20).attr("fill",COL.base);
fixLen(gc.append("text").attr("x",756).attr("y",645).text("Baseline"), 76);
gc.append("rect").attr("x",686).attr("y",655).attr("width",65).attr("height",20).attr("fill",COL.A);
fixLen(gc.append("text").attr("x",756).attr("y",671).text("Scenario A"), 101);
gc.append("line").attr("x1",686).attr("x2",751).attr("y1",691).attr("y2",691).attr("stroke",COL.B).attr("stroke-width",1.2);
fixLen(gc.append("text").attr("x",756).attr("y",697).text("Scenario B"), 100);
gc.append("line").attr("x1",686).attr("x2",751).attr("y1",718).attr("y2",718).attr("stroke",COL.C).attr("stroke-width",1.4);
fixLen(gc.append("text").attr("x",756).attr("y",723).text("Scenario C"), 101);

// x labels
months.forEach((m,i)=>{
  stretch(svg.append("text").attr("x",x(m)).attr("y",974).attr("text-anchor","middle").text(monthLabels[i]),1.17);
});
fixLen(svg.append("text").attr("x",471.5).attr("y",1001).attr("text-anchor","middle").text("Year 2016-2017"), 153);
</script>
</body>
</html>
